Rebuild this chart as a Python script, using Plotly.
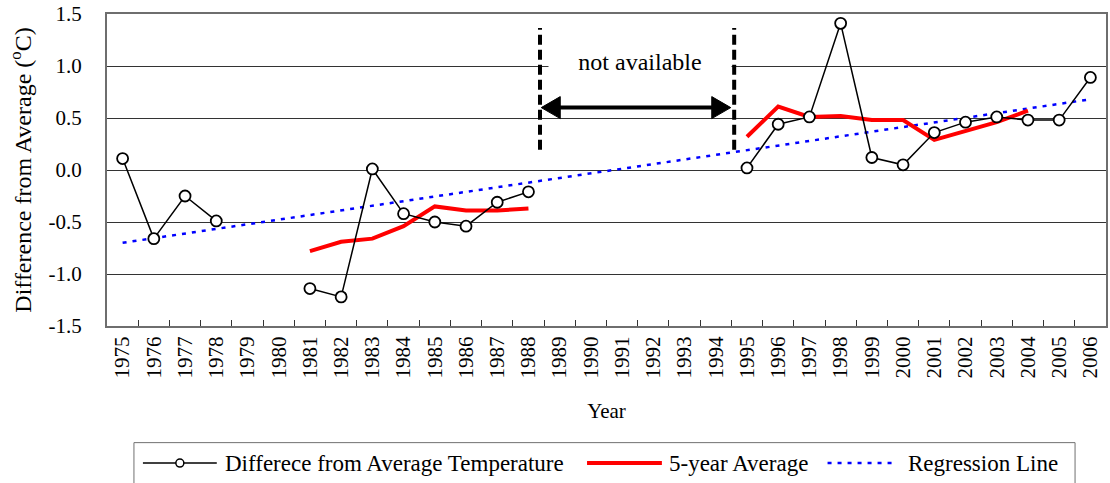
import plotly.graph_objects as go

# ---------------- data ----------------
years = ["1975", "1976", "1977", "1978", "1979", "1980", "1981", "1982",
         "1983", "1984", "1985", "1986", "1987", "1988", "1989", "1990",
         "1991", "1992", "1993", "1994", "1995", "1996", "1997", "1998",
         "1999", "2000", "2001", "2002", "2003", "2004", "2005", "2006"]

diff_values = [0.11, -0.66, -0.25, -0.49, None, None, -1.14, -1.22,
               0.01, -0.42, -0.50, -0.54, -0.31, -0.21, None, None,
               None, None, None, None, 0.02, 0.44, 0.51, 1.41,
               0.12, 0.05, 0.36, 0.46, 0.51, 0.48, 0.48, 0.89]

avg5_values = [None, None, None, None, None, None, -0.78, -0.69,
               -0.66, -0.54, -0.35, -0.39, -0.39, -0.37, None, None,
               None, None, None, None, 0.32, 0.61, 0.51, 0.52,
               0.48, 0.48, 0.29, 0.38, 0.46, 0.57, None, None]

regression_years = ["1975", "2006"]
regression_values = [-0.70, 0.68]

y_tickvals = [-1.5, -1.0, -0.5, 0.0, 0.5, 1.0, 1.5]
y_ticktext = ["-1.5", "-1.0", "-0.5", "0.0", "0.5", "1.0", "1.5"]

legend_names = ["Differece from Average Temperature", "5-year Average", "Regression Line"]

# gap markers (category index positions) and labels
gap_start, gap_end = 13.37, 19.59
gap_label = "not available"

FONT = "Liberation Serif"

# ---------------- layout geometry ----------------
W, H = 1110, 483
ML, MR, MT, MB = 107, 2, 13, 157
PW = W - ML - MR
PH = H - MT - MB


def px(x):
    return (x - ML) / PW


def py(y):
    return (H - MB - y) / PH


fig = go.Figure()

fig.add_trace(go.Scatter(
    x=regression_years, y=regression_values, mode="lines",
    line=dict(color="#0000FF", width=2.5, dash="4px,6px"),
    name=legend_names[2], showlegend=False))

fig.add_trace(go.Scatter(
    x=years, y=avg5_values, mode="lines", connectgaps=False,
    line=dict(color="#FF0000", width=4),
    name=legend_names[1], showlegend=False))

fig.add_trace(go.Scatter(
    x=years, y=diff_values, mode="lines+markers", connectgaps=False,
    line=dict(color="black", width=1.5),
    marker=dict(symbol="circle", size=11, color="white",
                line=dict(color="black", width=1.8)),
    name=legend_names[0], showlegend=False))

shapes = []
annotations = []

# dashed "not available" boundaries
for gx in (gap_start, gap_end):
    shapes.append(dict(type="line", xref="x", yref="y", x0=gx, x1=gx,
                       y0=0.195, y1=1.365,
                       line=dict(color="black", width=4, dash="10px,5px")))

# label with white background
annotations.append(dict(xref="x", yref="y", x=(gap_start + gap_end) / 2 + 0.1, y=1.035,
                        text=gap_label, showarrow=False, bgcolor="white",
                        width=180, font=dict(family=FONT, size=24, color="black")))

# double-headed arrow: shaft + two filled heads (pixel-sized, anchored in data)
arrow_y = 0.60
a_left, a_right = gap_start + 0.04, gap_end - 0.11
shapes.append(dict(type="line", xref="x", yref="y", x0=a_left + 0.3, x1=a_right - 0.3,
                   y0=arrow_y, y1=arrow_y, line=dict(color="black", width=4)))
shapes.append(dict(type="path", xref="x", yref="y",
                   xsizemode="pixel", ysizemode="pixel",
                   xanchor=a_left, yanchor=arrow_y,
                   path="M0,0 L19,11 L19,-11 Z",
                   fillcolor="black", line=dict(color="black", width=1)))
shapes.append(dict(type="path", xref="x", yref="y",
                   xsizemode="pixel", ysizemode="pixel",
                   xanchor=a_right, yanchor=arrow_y,
                   path="M0,0 L-19,11 L-19,-11 Z",
                   fillcolor="black", line=dict(color="black", width=1)))

# ---------------- custom legend ----------------
ly = 463.5
shapes.append(dict(type="rect", xref="paper", yref="paper",
                   x0=px(134), x1=px(1077), y0=py(443), y1=py(495),
                   line=dict(color="#707070", width=1), fillcolor="white",
                   layer="below"))
# sample 1: black line with circle
shapes.append(dict(type="line", xref="paper", yref="paper",
                   x0=px(143), x1=px(217), y0=py(ly), y1=py(ly),
                   line=dict(color="black", width=1.5)))
shapes.append(dict(type="circle", xref="paper", yref="paper",
                   xsizemode="pixel", ysizemode="pixel",
                   xanchor=px(180), yanchor=py(ly),
                   x0=-4, x1=4, y0=-4, y1=4,
                   line=dict(color="black", width=1.5), fillcolor="white"))
# sample 2: red line
shapes.append(dict(type="line", xref="paper", yref="paper",
                   x0=px(588), x1=px(663), y0=py(ly), y1=py(ly),
                   line=dict(color="#FF0000", width=4)))
# sample 3: blue dotted line
shapes.append(dict(type="line", xref="paper", yref="paper",
                   x0=px(829), x1=px(898), y0=py(ly), y1=py(ly),
                   line=dict(color="#0000FF", width=2.5, dash="4px,6px")))

for tx, name in zip((223, 668, 908), legend_names):
    annotations.append(dict(xref="paper", yref="paper", x=px(tx), y=py(ly),
                            xanchor="left", yanchor="middle", showarrow=False,
                            text=name, font=dict(family=FONT, size=23, color="black")))

fig.update_layout(
    width=W, height=H,
    margin=dict(l=ML, r=MR, t=MT, b=MB),
    paper_bgcolor="white", plot_bgcolor="white",
    font=dict(family=FONT, color="black"),
    showlegend=False,
    shapes=shapes,
    annotations=annotations,
    xaxis=dict(
        type="category", categoryorder="array", categoryarray=years,
        range=[-0.5, len(years) - 0.5],
        tickson="boundaries", ticks="inside", ticklen=6, tickwidth=1,
        tickcolor="#333333", tickangle=-90,
        tickfont=dict(family=FONT, size=21, color="black"),
        showgrid=False, showline=True, mirror=True,
        linecolor="#6e6e6e", linewidth=2,
        title=dict(text="Year", font=dict(family=FONT, size=21, color="black"), standoff=26),
    ),
    yaxis=dict(
        range=[-1.5, 1.5], tickmode="array", tickvals=y_tickvals, ticktext=y_ticktext,
        tickfont=dict(family=FONT, size=21, color="black"),
        ticks="", ticklabelstandoff=19,
        showgrid=True, gridcolor="#333333", gridwidth=1, zeroline=False,
        showline=True, mirror=True, linecolor="#6e6e6e", linewidth=2,
        title=dict(text="Difference from Average (<sup>o</sup>C)",
                   font=dict(family=FONT, size=24, color="black"), standoff=10),
    ),
)

fig.write_html("out.html")
